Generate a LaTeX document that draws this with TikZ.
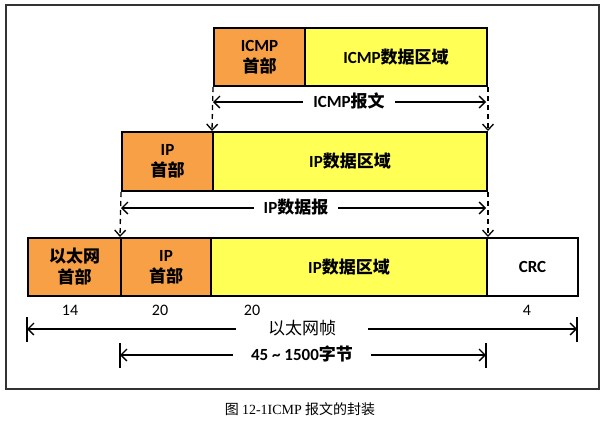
\documentclass[tikz,border=0pt]{standalone}
\usepackage{fontspec}
\setmainfont{Carlito}
\newfontfamily\cjk{Noto Sans CJK SC}
\newfontfamily\capserif{Liberation Serif}
\usetikzlibrary{arrows.meta}
\definecolor{hdrorange}{RGB}{247,160,70}
\definecolor{datayellow}{RGB}{255,255,85}
\begin{document}
\begin{tikzpicture}[x=1pt,y=-1pt,
  box/.style={draw=black,line width=2pt,anchor=north west,inner sep=0pt,align=center,
    font=\fontsize{17}{21}\selectfont\bfseries},
  hdr/.style={box,fill=hdrorange},
  dat/.style={box,fill=datayellow},
  plain/.style={box,fill=white},
  dimarrow/.style={line width=1.3pt,{Straight Barb[length=6pt,width=12pt]}-{Straight Barb[length=6pt,width=12pt]}},
  dasharrow/.style={line width=1.3pt,dashed,dash pattern=on 5pt off 4pt,-{Straight Barb[length=6pt,width=11pt]}},
  lbl/.style={fill=white,inner xsep=10pt,inner ysep=1pt,font=\fontsize{17}{21}\selectfont\bfseries},
  lblr/.style={fill=white,inner xsep=10pt,inner ysep=1pt,font=\fontsize{17}{21}\selectfont},
  num/.style={font=\fontsize{16}{18}\selectfont},
  bar/.style={line width=1.3pt}
]
\useasboundingbox (0,0) rectangle (609,424);
\draw[line width=1.5pt,black!80] (6,5) rectangle (599,389);

% top row
\node[hdr,minimum width=91pt,minimum height=58pt] (icmph) at (213,27) {ICMP\\{\cjk\bfseries 首部}};
\node[dat,minimum width=182pt,minimum height=58pt] (icmpd) at (304,27) {ICMP{\cjk\bfseries 数据区域}};

% middle row
\node[hdr,minimum width=91pt,minimum height=59pt] (iph) at (121,131) {IP\\{\cjk\bfseries 首部}};
\node[dat,minimum width=274pt,minimum height=59pt] (ipd) at (212,131) {IP{\cjk\bfseries 数据区域}};

% bottom row
\node[hdr,minimum width=93pt,minimum height=58pt] (eth) at (27,237) {{\cjk\bfseries 以太网}\\{\cjk\bfseries 首部}};
\node[hdr,minimum width=90pt,minimum height=58pt] (iph2) at (120,237) {IP\\{\cjk\bfseries 首部}};
\node[dat,minimum width=276pt,minimum height=58pt] (ipd2) at (210,237) {IP{\cjk\bfseries 数据区域}};
\node[plain,minimum width=91pt,minimum height=58pt] (crc) at (486,237) {CRC};

% numbers
\node[num] (n1) at (70,310) {14};
\node[num] (n2) at (160,310) {20};
\node[num] (n3) at (252,310) {20};
\node[num] (n4) at (527,310) {4};

% dashed arrows
\draw[dasharrow] (icmph.south west) -- (ipd.north west);
\draw[dasharrow] (icmpd.south east) -- (ipd.north east);
\draw[dasharrow] (iph.south west) -- (iph2.north west);
\draw[dasharrow] (ipd.south east) -- (ipd2.north east);

% dimension arrows
\coordinate (a1l) at (213,102); \coordinate (a1r) at (486,102);
\draw[dimarrow] (a1l) -- (a1r);
\node[lbl] (l1) at (349,101) {ICMP{\cjk\bfseries 报文}};

\coordinate (a2l) at (121,208); \coordinate (a2r) at (486,208);
\draw[dimarrow] (a2l) -- (a2r);
\node[lbl] (l2) at (296,207) {IP{\cjk\bfseries 数据报}};

\coordinate (a3l) at (27,329); \coordinate (a3r) at (577,329);
\coordinate (b3lt) at (27,317); \coordinate (b3lb) at (27,342);
\coordinate (b3rt) at (577,317); \coordinate (b3rb) at (577,342);
\draw[bar] (b3lt) -- (b3lb);
\draw[bar] (b3rt) -- (b3rb);
\draw[dimarrow] (a3l) -- (a3r);
\node[lblr,inner xsep=32pt] (l3) at (302,328) {{\cjk 以太网帧}};

\coordinate (a4l) at (120,355); \coordinate (a4r) at (486,355);
\coordinate (b4lt) at (120,343); \coordinate (b4lb) at (120,368);
\coordinate (b4rt) at (486,343); \coordinate (b4rb) at (486,368);
\draw[bar] (b4lt) -- (b4lb);
\draw[bar] (b4rt) -- (b4rb);
\draw[dimarrow] (a4l) -- (a4r);
\node[lbl,inner xsep=18pt] (l4) at (302,354) {45 \textasciitilde{} 1500{\cjk\bfseries 字节}};

% caption
\node[font=\fontsize{14}{16}\selectfont] (cap) at (300,409) {{\cjk 图} {\capserif 12-1ICMP} {\cjk 报文的封装}};
\end{tikzpicture}
\end{document}
